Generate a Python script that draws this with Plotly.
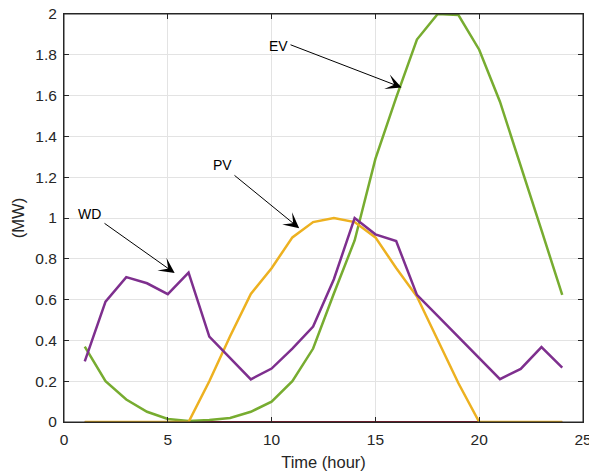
import plotly.graph_objects as go

hours = list(range(1, 25))
ev = [0.37, 0.20, 0.11, 0.05, 0.015, 0.005, 0.01, 0.02, 0.05, 0.10, 0.20, 0.36,
      0.63, 0.89, 1.29, 1.59, 1.875, 2.0, 1.995, 1.825, 1.57, 1.25, 0.94, 0.623]
pv = [0, 0, 0, 0, 0, 0, 0.20, 0.42, 0.628, 0.754, 0.905, 0.98,
      1.0, 0.98, 0.905, 0.755, 0.615, 0.40, 0.19, 0, 0, 0, 0, 0]
wd = [0.297, 0.59, 0.71, 0.68, 0.627, 0.732, 0.419, 0.313, 0.209, 0.262, 0.36, 0.468,
      0.70, 1.0, 0.92, 0.887, 0.623, 0.52, 0.417, 0.313, 0.21, 0.26, 0.367, 0.267]
other = [0] * 24

xticks = [0, 5, 10, 15, 20, 25]
yticks = [0, 0.2, 0.4, 0.6, 0.8, 1, 1.2, 1.4, 1.6, 1.8, 2]
ytick_labels = ["0", "0.2", "0.4", "0.6", "0.8", "1", "1.2", "1.4", "1.6", "1.8", "2"]

# annotation labels: (text, text_x, text_y, tail_x, tail_y, tip_x, tip_y)
labels = [
    ("EV", 10.33, 1.843, 10.84, 1.852, 16.26, 1.640),
    ("PV", 7.65, 1.259, 8.14, 1.215, 11.33, 0.950),
    ("WD", 1.24, 1.020, 1.88, 0.979, 5.33, 0.730),
]

FONT = "Liberation Sans, Arial, Helvetica"

fig = go.Figure()
fig.add_trace(go.Scatter(x=hours, y=other, mode="lines", line=dict(color="#A2142F", width=2)))
fig.add_trace(go.Scatter(x=hours, y=ev, mode="lines", line=dict(color="#77AC30", width=2.5)))
fig.add_trace(go.Scatter(x=hours, y=pv, mode="lines", line=dict(color="#EDB120", width=2.5)))
fig.add_trace(go.Scatter(x=hours, y=wd, mode="lines", line=dict(color="#7E2F8E", width=2.5)))

for txt, tx, ty, ax, ay, x, y in labels:
    fig.add_annotation(x=x, y=y, ax=ax, ay=ay, axref="x", ayref="y", xref="x", yref="y",
                       text="", showarrow=True, arrowhead=3, arrowsize=2.6, arrowwidth=1,
                       standoff=0, startstandoff=0, arrowcolor="black")
    fig.add_annotation(x=tx, y=ty, xref="x", yref="y", text=txt, showarrow=False,
                       font=dict(family=FONT, size=14, color="black"))

axis_common = dict(showline=True, linecolor="#262626", linewidth=1, mirror="ticks",
                   ticks="inside", ticklen=5, tickcolor="#262626", automargin=False,
                   ticklabeloverflow="allow",
                   showgrid=True, gridcolor="#e3e3e3", gridwidth=1, zeroline=False,
                   tickfont=dict(family=FONT, size=15.5, color="#262626"))

fig.update_xaxes(range=[0, 25], tickvals=xticks, ticklabelstandoff=3,
                 title=dict(text="Time (hour)", font=dict(family=FONT, size=16.5, color="#262626"), standoff=9),
                 **axis_common)
fig.update_yaxes(range=[0, 2], tickvals=yticks, ticktext=ytick_labels, ticklabelstandoff=3,
                 title=dict(text="(MW)", font=dict(family=FONT, size=16.5, color="#262626"), standoff=6),
                 **axis_common)

fig.add_shape(type="rect", xref="paper", yref="paper", x0=0, x1=1, y0=0, y1=1,
              line=dict(color="#262626", width=1), fillcolor="rgba(0,0,0,0)", layer="above")

fig.update_layout(width=589, height=473, showlegend=False,
                  margin=dict(l=64, r=6, t=14, b=51, autoexpand=False),
                  plot_bgcolor="white", paper_bgcolor="white")

fig.write_html("out.html", config={"displayModeBar": False},
               post_script="document.body.style.margin='0px';document.body.style.overflow='hidden';")
